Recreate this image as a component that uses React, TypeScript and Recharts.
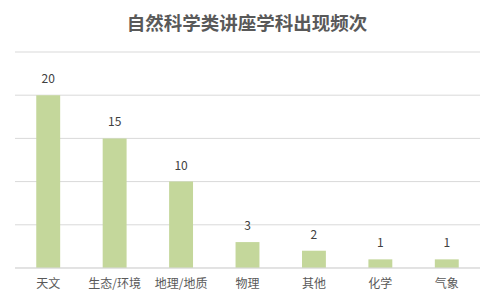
import { BarChart, Bar, XAxis, YAxis, CartesianGrid, LabelList } from "recharts"

const subjects = ["天文", "生态/环境", "地理/地质", "物理", "其他", "化学", "气象"]
const counts = [20, 15, 10, 3, 2, 1, 1]
const yTicks = [0, 5, 10, 15, 20, 25]

const font = '"Microsoft YaHei", "Noto Sans CJK SC", sans-serif'

export default function App() {
  const data = subjects.map((name, i) => ({ name, count: counts[i] }))

  return (
    <div style={{ position: "absolute", left: 0, top: 0, width: 494, height: 301, background: "#fff", fontFamily: font }}>
      <div
        style={{
          position: "absolute",
          top: 9,
          left: 0,
          width: 494,
          textAlign: "center",
          fontSize: 18.5,
          fontWeight: "bold",
          color: "#595959",
          lineHeight: "26px",
        }}
      >
        自然科学类讲座学科出现频次
      </div>
      <BarChart
        width={494}
        height={301}
        data={data}
        margin={{ top: 52, right: 14, bottom: 0, left: 15 }}
        barCategoryGap="68%"
      >
        <CartesianGrid vertical={false} stroke="#d9d9d9" />
        <YAxis hide domain={[0, 25]} ticks={yTicks} width={0} />
        <XAxis
          dataKey="name"
          height={33}
          axisLine={{ stroke: "#d9d9d9" }}
          tickLine={false}
          tickMargin={5}
          interval={0}
          tick={{ fontSize: 12, fill: "#595959", fontFamily: font }}
        />
        <Bar dataKey="count" fill="#c4d79b" isAnimationActive={false}>
          <LabelList
            dataKey="count"
            position="top"
            offset={12}
            fill="#404040"
            fontSize={12}
            fontFamily={font}
          />
        </Bar>
      </BarChart>
    </div>
  )
}
